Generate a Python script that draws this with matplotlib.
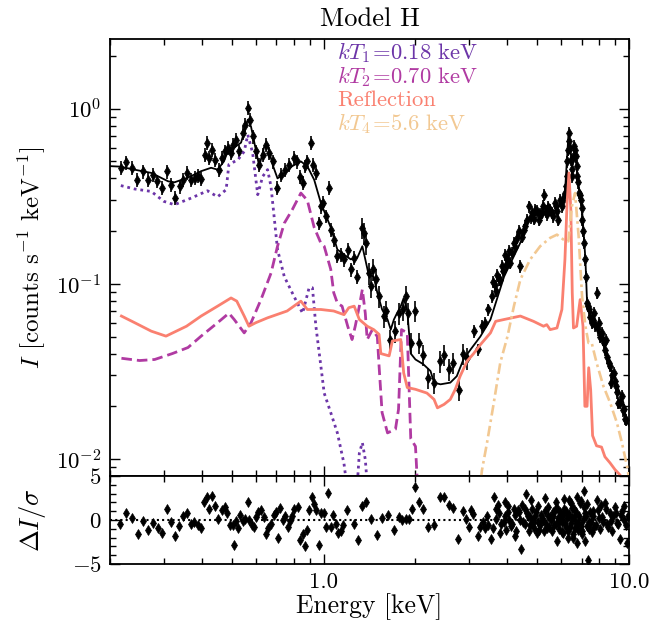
import numpy as np
import matplotlib
matplotlib.use('Agg')
import matplotlib.pyplot as plt
from matplotlib.ticker import (FixedLocator, FixedFormatter, LogLocator,
                               MultipleLocator, NullFormatter)

plt.rcParams.update({
    'font.family': 'serif',
    'font.serif': ['cmr10'],
    'mathtext.fontset': 'cm',
    'axes.formatter.use_mathtext': True,
    'axes.unicode_minus': True,
})

# ---------------- data (counts s^-1 keV^-1) ----------------
soft_E = [0.217, 0.226, 0.236, 0.246, 0.256, 0.266, 0.277, 0.284, 0.296, 0.307,
          0.317, 0.327, 0.338, 0.346, 0.358, 0.369, 0.380, 0.389, 0.398, 0.408,
          0.416, 0.423, 0.432, 0.442, 0.456, 0.464, 0.476, 0.486, 0.498, 0.507,
          0.517, 0.530, 0.544, 0.553, 0.565, 0.575, 0.586, 0.602, 0.616, 0.632,
          0.648, 0.665, 0.681, 0.704, 0.725, 0.747, 0.772, 0.798, 0.817, 0.839,
          0.854, 0.869, 0.885, 0.909, 0.925, 0.944, 0.967, 0.980, 0.993, 1.017,
          1.043, 1.056, 1.083, 1.110, 1.139, 1.167, 1.200, 1.228, 1.258, 1.290]
soft_I = [0.459, 0.494, 0.459, 0.394, 0.439, 0.394, 0.420, 0.385, 0.353, 0.439,
          0.368, 0.309, 0.360, 0.394, 0.430, 0.394, 0.403, 0.415, 0.397, 0.547,
          0.637, 0.523, 0.584, 0.512, 0.449, 0.523, 0.570, 0.597, 0.558, 0.623,
          0.666, 0.570, 0.727, 0.810, 1.010, 0.866, 0.695, 0.570, 0.480, 0.547,
          0.623, 0.558, 0.500, 0.353, 0.420, 0.449, 0.480, 0.523, 0.500, 0.410,
          0.377, 0.470, 0.500, 0.637, 0.480, 0.430, 0.222, 0.277, 0.290, 0.243,
          0.353, 0.204, 0.179, 0.144, 0.147, 0.138, 0.157, 0.121, 0.141, 0.110]

mid_E = [1.340, 1.357, 1.374, 1.410, 1.427, 1.456, 1.480, 1.520, 1.580, 1.597,
         1.650, 1.710, 1.765, 1.820, 1.857, 1.890, 1.930, 2.000, 2.050, 2.120,
         2.200, 2.300, 2.400, 2.480, 2.570, 2.660, 2.770, 2.870, 2.950]
mid_I = [0.209, 0.195, 0.171, 0.115, 0.097, 0.121, 0.106, 0.085, 0.0654, 0.070,
         0.0481, 0.0537, 0.068, 0.0714, 0.085, 0.068, 0.046, 0.070, 0.046, 0.0395,
         0.0292, 0.0273, 0.0362, 0.0395, 0.0325, 0.0355, 0.0249, 0.040, 0.0376]

hard_E = [3.10, 3.20, 3.31, 3.39, 3.46, 3.55, 3.59, 3.63, 3.66, 3.70,
          3.74, 3.78, 3.84, 3.87, 3.94, 3.97, 4.00, 4.04, 4.09, 4.13,
          4.19, 4.24, 4.30, 4.35, 4.41, 4.46, 4.52, 4.58, 4.64, 4.70,
          4.76, 4.82, 4.88, 4.94, 5.00, 5.06, 5.12, 5.19, 5.23, 5.27,
          5.33, 5.38, 5.45, 5.52, 5.59, 5.66, 5.72, 5.77, 5.82, 5.87,
          5.95, 6.03, 6.08, 6.15, 6.20, 6.25, 6.29, 6.33, 6.35, 6.38,
          6.42, 6.45, 6.49, 6.53, 6.57, 6.61, 6.65, 6.70, 6.74, 6.78,
          6.83, 6.88, 6.92, 6.97, 7.00, 7.04, 7.09, 7.13, 7.19, 7.23,
          7.29, 7.35, 7.42, 7.48, 7.55, 7.62, 7.68, 7.75, 7.83, 7.90,
          7.98, 8.05, 8.13, 8.20, 8.27, 8.35, 8.43, 8.50, 8.60, 8.67,
          8.74, 8.82, 8.90, 8.97, 9.09, 9.15, 9.23, 9.35, 9.48, 9.55,
          9.60, 9.70, 9.75]
hard_I = [0.0537, 0.0422, 0.0573, 0.0597, 0.0714, 0.085, 0.103, 0.098, 0.091, 0.112,
          0.106, 0.105, 0.126, 0.118, 0.147, 0.128, 0.138, 0.155, 0.132, 0.150,
          0.171, 0.162, 0.183, 0.200, 0.126, 0.185, 0.204, 0.215, 0.233, 0.277,
          0.240, 0.254, 0.235, 0.265, 0.260, 0.233, 0.250, 0.254, 0.280, 0.323,
          0.260, 0.249, 0.275, 0.265, 0.255, 0.243, 0.290, 0.277, 0.260, 0.233,
          0.300, 0.277, 0.300, 0.330, 0.360, 0.411, 0.500, 0.584, 0.650, 0.727,
          0.600, 0.512, 0.450, 0.411, 0.520, 0.610, 0.580, 0.534, 0.470, 0.411,
          0.380, 0.330, 0.320, 0.303, 0.270, 0.233, 0.200, 0.171, 0.138, 0.110,
          0.078, 0.075, 0.0714, 0.065, 0.060, 0.062, 0.068, 0.058, 0.089, 0.055,
          0.060, 0.050, 0.0525, 0.048, 0.046, 0.042, 0.0481, 0.038, 0.0355, 0.034,
          0.0273, 0.030, 0.0311, 0.028, 0.026, 0.024, 0.021, 0.021, 0.0229, 0.019,
          0.0192, 0.017, 0.0168]

# fractional 1-sigma errors of the three bands (soft, mid, hard)
band_relerr = [0.09, 0.14, 0.08]

# ---------------- model components ----------------
total_E = [0.200, 0.216, 0.240, 0.273, 0.310, 0.325, 0.360, 0.3975, 0.4285, 0.450,
           0.472, 0.486, 0.510, 0.537, 0.565, 0.579, 0.602, 0.616, 0.640, 0.656,
           0.681, 0.707, 0.744, 0.790, 0.843, 0.885, 0.932, 0.980, 1.056, 1.110,
           1.167, 1.228, 1.290, 1.340, 1.370, 1.405, 1.460, 1.500, 1.555, 1.620,
           1.660, 1.700, 1.740, 1.790, 1.830, 1.880, 1.930, 2.000, 2.120, 2.240,
           2.300, 2.415, 2.600, 2.730, 2.870, 3.030, 3.260, 3.520, 3.900, 4.410,
           4.750, 5.250, 5.810, 6.170, 6.330, 6.500, 6.660, 6.840, 7.020, 7.200,
           7.290, 7.660, 8.250, 8.900, 9.590, 9.800, 10.00]
total_I = [0.47, 0.467, 0.449, 0.43, 0.385, 0.38, 0.404, 0.44, 0.46, 0.449,
           0.50, 0.57, 0.60, 0.64, 0.866, 0.79, 0.57, 0.47, 0.61, 0.623,
           0.48, 0.40, 0.43, 0.47, 0.50, 0.47, 0.393, 0.29, 0.21, 0.157,
           0.147, 0.138, 0.141, 0.164, 0.138, 0.113, 0.110, 0.089, 0.0714, 0.0626,
           0.0548, 0.0626, 0.068, 0.0746, 0.083, 0.070, 0.040, 0.037, 0.0348, 0.0318,
           0.0273, 0.0267, 0.0273, 0.0297, 0.037, 0.0422, 0.050, 0.0626, 0.110, 0.172,
           0.243, 0.254, 0.265, 0.33, 0.695, 0.512, 0.56, 0.36, 0.265, 0.138,
           0.078, 0.0654, 0.046, 0.0297, 0.021, 0.0168, 0.0155]

kT1_E = [0.217, 0.241, 0.273, 0.300, 0.325, 0.369, 0.417, 0.450, 0.480, 0.490,
         0.525, 0.550, 0.565, 0.586, 0.609, 0.632, 0.656, 0.673, 0.707, 0.744,
         0.800, 0.854, 0.897, 0.920, 0.944, 0.980, 1.005, 1.056, 1.110, 1.167,
         1.190, 1.290, 1.310, 1.340, 1.370, 1.390]
kT1_I = [0.364, 0.348, 0.337, 0.296, 0.283, 0.309, 0.340, 0.314, 0.345, 0.480,
         0.512, 0.570, 0.710, 0.560, 0.323, 0.410, 0.449, 0.360, 0.157, 0.110,
         0.085, 0.068, 0.095, 0.095, 0.0573, 0.034, 0.0238, 0.0184, 0.0141, 0.0094,
         0.0072, 0.0072, 0.0108, 0.0124, 0.00995, 0.0072]

kT2_E = [0.218, 0.250, 0.280, 0.320, 0.360, 0.3975, 0.450, 0.490, 0.510, 0.550,
         0.579, 0.624, 0.673, 0.707, 0.744, 0.790, 0.843, 0.885, 0.932, 0.980,
         1.005, 1.056, 1.080, 1.110, 1.150, 1.200, 1.240, 1.270, 1.310, 1.340,
         1.370, 1.390, 1.445, 1.500, 1.520, 1.555, 1.620, 1.720, 1.760, 1.800,
         1.880, 1.930, 2.000, 2.030]
kT2_I = [0.0376, 0.0365, 0.037, 0.040, 0.0433, 0.0503, 0.060, 0.068, 0.0626, 0.0525,
         0.060, 0.0813, 0.115, 0.164, 0.222, 0.265, 0.330, 0.300, 0.210, 0.171,
         0.164, 0.121, 0.089, 0.0776, 0.0746, 0.0573, 0.0481, 0.0573, 0.0746, 0.093,
         0.068, 0.0481, 0.0548, 0.050, 0.034, 0.0184, 0.0141, 0.0148, 0.0192, 0.0548,
         0.0525, 0.0131, 0.0118, 0.0072]

refl_E = [0.218, 0.241, 0.273, 0.305, 0.356, 0.3975, 0.450, 0.498, 0.520, 0.550,
          0.570, 0.600, 0.656, 0.760, 0.843, 0.885, 0.980, 1.080, 1.167, 1.210,
          1.260, 1.310, 1.390, 1.460, 1.520, 1.540, 1.640, 1.680, 1.790, 1.830,
          1.880, 2.000, 2.180, 2.300, 2.360, 2.480, 2.600, 2.700, 2.800, 2.950,
          3.100, 3.260, 3.520, 3.660, 3.900, 4.410, 4.870, 5.250, 5.380, 5.520,
          5.810, 6.030, 6.170, 6.270, 6.360, 6.450, 6.520, 6.580, 6.740, 6.920,
          7.070, 7.170, 7.290, 7.380, 7.490, 7.600, 7.830, 8.130, 8.340, 8.670,
          9.000, 9.350, 9.600]
refl_I = [0.0655, 0.060, 0.0537, 0.0503, 0.0573, 0.0655, 0.0746, 0.0831, 0.0797, 0.0655,
          0.0573, 0.060, 0.064, 0.070, 0.0797, 0.0714, 0.0714, 0.070, 0.0667, 0.0731,
          0.0746, 0.0626, 0.0573, 0.0548, 0.0515, 0.040, 0.0388, 0.0472, 0.0481, 0.031,
          0.0256, 0.025, 0.0238, 0.0219, 0.0196, 0.0205, 0.0219, 0.025, 0.0297, 0.0362,
          0.040, 0.0449, 0.0525, 0.0611, 0.0626, 0.0655, 0.0611, 0.0573, 0.0585, 0.0548,
          0.0560, 0.0714, 0.138, 0.290, 0.430, 0.265, 0.089, 0.056, 0.0573, 0.0813,
          0.0573, 0.020, 0.020, 0.0332, 0.0249, 0.0136, 0.0119, 0.0117, 0.0103, 0.0095,
          0.0087, 0.0081, 0.0075]

kT4_E = [3.28, 3.30, 3.43, 3.61, 3.79, 4.00, 4.20, 4.41, 4.75, 5.12,
         5.52, 5.81, 6.10, 6.33, 6.50, 6.66, 6.84, 7.02, 7.20, 7.37,
         7.55, 7.83, 8.25, 8.67, 9.13, 9.48, 9.70, 9.85, 10.0]
kT4_I = [0.0078, 0.0086, 0.0124, 0.021, 0.0355, 0.050, 0.0746, 0.106, 0.138, 0.164,
         0.183, 0.191, 0.179, 0.175, 0.277, 0.330, 0.187, 0.085, 0.0573, 0.046,
         0.046, 0.0355, 0.026, 0.021, 0.0161, 0.0124, 0.0103, 0.0091, 0.0078]

# ---------------- residuals (Delta I / sigma) ----------------
res_E = [0.2163, 0.2262, 0.2361, 0.2470, 0.2565, 0.2663, 0.2765, 0.2871, 0.2966, 0.3073,
         0.3174, 0.3270, 0.3362, 0.3480, 0.3578, 0.3687, 0.3780, 0.3878, 0.3975, 0.4075,
         0.4159, 0.4231, 0.4318, 0.4427, 0.4528, 0.4645, 0.4762, 0.4834, 0.4944, 0.5045,
         0.5083, 0.5160, 0.5238, 0.5342, 0.5439, 0.5535, 0.5648, 0.5716, 0.5833, 0.5908,
         0.6012, 0.6116, 0.6241, 0.6369, 0.6480, 0.6593, 0.6728, 0.6866, 0.6986, 0.7075,
         0.7215, 0.7346, 0.7476, 0.7629, 0.7762, 0.7880, 0.8017, 0.8225, 0.8368, 0.8539,
         0.8689, 0.8822, 0.8975, 0.9137, 0.9277, 0.9439, 0.9632, 0.9799, 1.0000, 1.0174,
         1.0352, 1.0564, 1.0747, 1.0968, 1.1159, 1.1389, 1.1588, 1.1979, 1.2560, 1.2974,
         1.3399, 1.3745, 1.4269, 1.4997, 1.5593, 1.6265, 1.7067, 1.7617, 1.8113, 1.8568,
         1.9036, 1.9528, 1.9913, 2.0518, 2.1210, 2.2023, 2.2970, 2.4025, 2.4756, 2.5709,
         2.6491, 2.7587, 2.8560, 2.9299, 3.0037, 3.0498, 3.0889, 3.1973, 3.2634, 3.3302,
         3.3884, 3.4476, 3.5365, 3.6064, 3.6718, 3.7154, 3.7550, 3.8116, 3.8869, 3.9373,
         3.9673, 4.0059, 4.0570, 4.1190, 4.1907, 4.2443, 4.2766, 4.3182, 4.3843, 4.4300,
         4.4843, 4.5520, 4.6100, 4.6700, 4.7263, 4.7765, 4.8340, 4.8957, 4.9592, 5.0189,
         5.0840, 5.1494, 5.2282, 5.2912, 5.3589, 5.4123, 5.4815, 5.5525, 5.6194, 5.6924,
         5.7652, 5.8092, 5.8522, 5.9105, 5.9841, 6.0576, 6.1024, 6.1489, 6.2143, 6.2890,
         6.3369, 6.3839, 6.4520, 6.5012, 6.5495, 6.5991, 6.6633, 6.7141, 6.7809, 6.8311,
         6.9197, 7.0084, 7.0618, 7.1307, 7.2015, 7.2781, 7.3659, 7.4220, 7.5164, 7.6139,
         7.7058, 7.8471, 7.9655, 8.1031, 8.2446, 8.4134, 8.5599, 8.7168, 8.8892, 9.0712,
         9.2293, 9.3472, 9.5112, 9.6323, 9.7779]
res_val = [-0.4, 0.76, 0.27, -1.6, -0.1, -1.1, -0.3, -0.9, -1.5, 1.3,
           -0.2, -1.8, -0.7, 0.4, 0.8, -0.45, -0.2, -0.6, -0.95, 2.1,
           2.6, 1.2, 2.7, 1.6, 0.1, 1.1, 1.5, 0.8, -0.6, -0.6,
           -2.8, -0.1, -0.95, 0.6, -0.1, 0.1, 2.1, 0.0, -0.6, -0.8,
           0.3, 0.95, 1.1, 0.3, -1.6, -0.95, -0.4, 0.6, 0.95, -2.1,
           1.4, 0.0, 0.45, -0.8, -0.1, 0.4, 1.3, 1.5, -2.3, -1.6,
           -3.0, -1.1, 1.1, 2.65, 1.8, 1.1, -2.8, 0.76, 0.8, -0.8,
           3.1, -0.8, 0.6, -0.4, -1.5, -1.3, -0.6, 1.1, -0.4, -2.3,
           1.64, 2.0, 0.15, -1.7, 0.2, 0.52, -1.16, 0.34, 0.0, 0.1,
           0.1, 1.3, 3.8, 2.0, 1.3, -0.75, -0.6, 2.6, 2.6, 1.7,
           1.4, -2.2, 1.06, 0.1, -0.8, 1.1, 0.7, -1.8, -0.8, -0.2,
           -0.95, -0.6, -2.2, 2.65, 0.1, 1.7, 0.76, -0.4, -0.2, 2.1,
           -1.1, 0.95, 0.0, -0.7, 1.3, 0.6, -1.25, 1.1, 0.0, -3.3,
           -0.2, 1.3, 3.0, 0.4, -0.6, 2.3, 0.0, -0.95, 0.95, -0.2,
           -1.1, 0.6, 0.0, 2.5, -0.4, 0.4, -0.8, 0.0, 0.95, -0.6,
           2.0, -2.35, 0.2, -1.06, 0.6, -0.2, -1.5, 1.3, -0.75, 0.2,
           -1.2, 2.3, -0.3, 1.4, -2.1, 0.3, -0.95, 0.95, -2.65, -0.2,
           1.9, -1.6, 0.0, 3.3, 0.76, -0.7, -4.6, -1.06, -0.2, 1.06,
           -0.8, 2.3, 0.2, 1.7, -0.2, 1.3, -0.8, -0.1, 0.4, 0.76,
           -0.4, -2.2, 1.06, 0.0, -0.6]

# additional residuals read in the crowded 3.4-10 keV band
res_E_dense = [3.42, 3.58, 3.68, 3.79, 3.92, 4.03, 4.15, 4.22, 4.35, 4.46,
               4.58, 4.64, 4.70, 4.75, 4.80, 4.86, 4.92, 4.98, 5.05, 5.11,
               5.18, 5.25, 5.32, 5.38, 5.44, 5.50, 5.58, 5.65, 5.72, 5.78,
               5.83, 5.88, 5.95, 6.02, 6.08, 6.12, 6.18, 6.24, 6.31, 6.36,
               6.41, 6.47, 6.53, 6.58, 6.63, 6.69, 6.75, 6.80, 6.86, 6.94,
               6.98, 7.04, 7.10, 7.16, 7.22, 7.30, 7.38, 7.45, 7.55, 7.65,
               7.78, 7.90, 8.02, 8.18, 8.33, 8.48, 8.65, 8.80, 8.97, 9.15,
               9.40, 9.60, 9.85, 9.92]
res_dense = [0.4, -0.9, 1.2, -1.5, 0.5, 1.6, -0.4, -1.8, 0.9, 1.7,
             -0.5, 0.8, -1.2, 0.3, 1.2, -0.3, 0.5, -1.5, 1.6, -0.6,
             0.2, -1.3, 1.0, -0.9, 1.5, 0.3, -1.2, 0.5, 1.1, -0.5,
             1.4, -0.2, 0.9, -1.4, 0.6, 2.4, -0.4, 1.0, -2.0, 0.7,
             -0.8, 1.9, 0.2, -1.6, 1.2, -0.3, 2.6, -1.1, 0.4, -0.7,
             2.2, -1.3, 1.5, -2.4, 0.5, 1.8, -0.2, 0.9, -1.4, 0.4,
             -0.6, 1.1, -1.0, 0.3, 1.9, -0.5, 0.8, -1.3, 1.5, -0.3,
             0.6, 1.6, -2.6, 0.4]

legend_labels = [r'$kT_1\!=\!0.18\ \mathrm{keV}$', r'$kT_2\!=\!0.70\ \mathrm{keV}$',
                 'Reflection', r'$kT_4\!=\!5.6\ \mathrm{keV}$']
colors = ['#6c35a8', '#b03aa2', '#fa8070', '#f2c892']

# ---------------- figure ----------------
W, H = 672, 633
fig = plt.figure(figsize=(W / 100, H / 100), dpi=100)
ax = fig.add_axes([110 / W, 1 - 476 / H, 519 / W, 437 / H])
axr = fig.add_axes([110 / W, 1 - 564 / H, 519 / W, 88 / H], sharex=ax)

bands = [(soft_E, soft_I), (mid_E, mid_I), (hard_E, hard_I)]
for (e, i), rel in zip(bands, band_relerr):
    e = np.asarray(e)
    i = np.asarray(i)
    ax.errorbar(e, i, yerr=i * rel, fmt='d', color='k', ms=4.6, mew=0.5,
                elinewidth=1.2, capsize=0, zorder=3)

ax.plot(total_E, total_I, color='k', lw=1.3, zorder=4)
ax.plot(kT1_E, kT1_I, color=colors[0], lw=2.0, ls=(0, (1, 1.4)), zorder=5)
ax.plot(kT2_E, kT2_I, color=colors[1], lw=2.0, ls=(0, (3.8, 1.8)), zorder=5)
ax.plot(refl_E, refl_I, color=colors[2], lw=2.0, ls='-', zorder=5)
ax.plot(kT4_E, kT4_I, color=colors[3], lw=1.9, ls=(0, (4, 1.5, 1, 1.5)), zorder=5)

ax.set_xscale('log')
ax.set_yscale('log')
ax.set_xlim(0.2, 10)
ax.set_ylim(0.008, 2.5)

for k, (lab, c) in enumerate(zip(legend_labels, colors)):
    ax.text(0.437, 0.954 - 0.054 * k, lab, color=c, fontsize=16.3,
            transform=ax.transAxes, ha='left', va='baseline')

ax.set_title('Model H', fontsize=19, pad=9)
ax.set_ylabel(r'$I$ [counts s$^{-1}$ keV$^{-1}$]', fontsize=18)
ax.yaxis.set_label_coords(-0.12, 0.5)

# residual panel
axr.plot(res_E, res_val, 'd', color='k', ms=4.6, mew=0.5, zorder=3)
axr.plot(res_E_dense, res_dense, 'd', color='k', ms=4.6, mew=0.5, zorder=3)
axr.axhline(0, color='k', ls=(0, (1, 1.5)), lw=1.5, zorder=2)
axr.set_ylim(-5, 5)
axr.yaxis.set_major_locator(FixedLocator([-5, 0, 5]))
axr.yaxis.set_major_formatter(FixedFormatter([r'$-5$', r'$0$', r'$5$']))
axr.yaxis.set_minor_locator(MultipleLocator(1))
axr.set_ylabel(r'$\Delta I/\sigma$', fontsize=19)
axr.yaxis.set_label_coords(-0.12, 0.5)
axr.set_xlabel('Energy [keV]', fontsize=18.5)
axr.xaxis.set_label_coords(0.5, -0.33)

ax.xaxis.set_major_locator(FixedLocator([1.0, 10.0]))
ax.xaxis.set_major_formatter(FixedFormatter(['1.0', '10.0']))
ax.xaxis.set_minor_locator(LogLocator(base=10, subs=np.arange(2, 10)))
ax.xaxis.set_minor_formatter(NullFormatter())
ax.yaxis.set_minor_locator(LogLocator(base=10, subs=np.arange(2, 10), numticks=20))
ax.yaxis.set_minor_formatter(NullFormatter())

for a in (ax, axr):
    a.tick_params(which='both', direction='in', top=True, right=True,
                  labelsize=16.5, pad=6)
    a.tick_params(which='major', length=7, width=1.0)
    a.tick_params(which='minor', length=4, width=1.0)
    for s in a.spines.values():
        s.set_linewidth(1.3)
ax.tick_params(labelbottom=False)

fig.savefig('out.png', dpi=100)
